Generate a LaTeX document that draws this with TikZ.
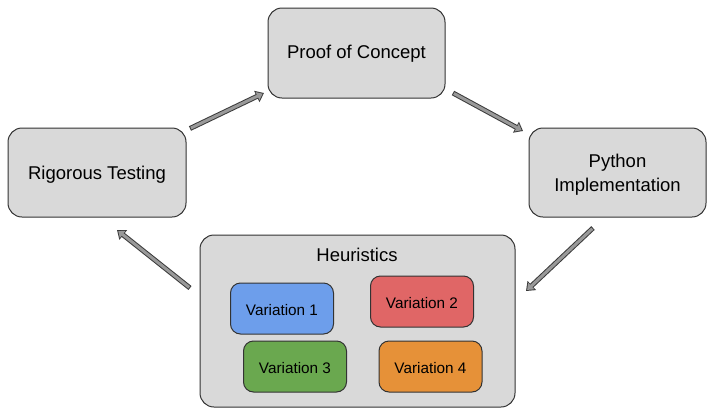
\documentclass[tikz,border=0pt]{standalone}
\usepackage{fontspec}
\setmainfont{Liberation Sans}
\usetikzlibrary{arrows.meta}
\definecolor{boxgray}{HTML}{D9D9D9}
\definecolor{boxline}{HTML}{333333}
\definecolor{vblue}{HTML}{6D9EEB}
\definecolor{vred}{HTML}{E06666}
\definecolor{vgreen}{HTML}{6AA84F}
\definecolor{vorange}{HTML}{E69138}
\definecolor{shaftgray}{HTML}{999999}
\definecolor{shaftline}{HTML}{3A3A3A}
\begin{document}
\begin{tikzpicture}[x=1pt,y=-1pt,
  bigbox/.style={draw=boxline, fill=boxgray, line width=1pt, rounded corners=14pt, inner sep=0pt,
    align=center, font=\fontsize{18.5}{24}\selectfont},
  varbox/.style={draw=boxline, line width=1pt, rounded corners=10pt, inner sep=0pt,
    minimum width=103pt, minimum height=51pt, text height=13pt, text depth=0pt,
    font=\fontsize{15.3}{18}\selectfont},
  fatout/.style={line width=5pt, draw=shaftline, -{Triangle[length=8pt,width=12pt]}},
  fatin/.style={line width=3pt, draw=shaftgray, shorten <=1pt, shorten >=1.6pt, -{Triangle[length=5.6pt,width=8.6pt]}}
]
\useasboundingbox (0,0) rectangle (716,416);

\node[bigbox, minimum width=177pt, minimum height=90pt, text height=10.6pt, text depth=0pt] (poc) at (356.5,53) {Proof of Concept};
\node[bigbox, minimum width=178pt, minimum height=89pt, text height=13pt, text depth=0pt] (rt) at (97,172.5) {Rigorous Testing};
\node[bigbox, minimum width=177pt, minimum height=89pt, text height=37.5pt, text depth=0pt] (py) at (617.5,172.5) {Python\\Implementation};
\node[bigbox, minimum width=315pt, minimum height=172pt] (heu) at (357.5,321) {};
\node[font=\fontsize{18.5}{23}\selectfont, inner sep=0pt, anchor=base] (heulabel) at (357,261) {Heuristics};

\node[varbox, fill=vblue] (v1) at (282,308.5) {Variation 1};
\node[varbox, fill=vred] (v2) at (422,301.5) {Variation 2};
\node[varbox, fill=vgreen] (v3) at (295,366.5) {Variation 3};
\node[varbox, fill=vorange] (v4) at (430.5,366.5) {Variation 4};

\coordinate (a1s) at (190,128.5);
\coordinate (a1e) at (264,93);
\coordinate (a2s) at (453,93);
\coordinate (a2e) at (523,131);
\coordinate (a3s) at (593,228);
\coordinate (a3e) at (526,291);
\coordinate (a4s) at (190,288);
\coordinate (a4e) at (117,230);

\foreach \s/\e in {a1s/a1e, a2s/a2e, a3s/a3e, a4s/a4e}{
  \draw[fatout] (\s) -- (\e);
  \draw[fatin] (\s) -- (\e);
}
\end{tikzpicture}
\end{document}
